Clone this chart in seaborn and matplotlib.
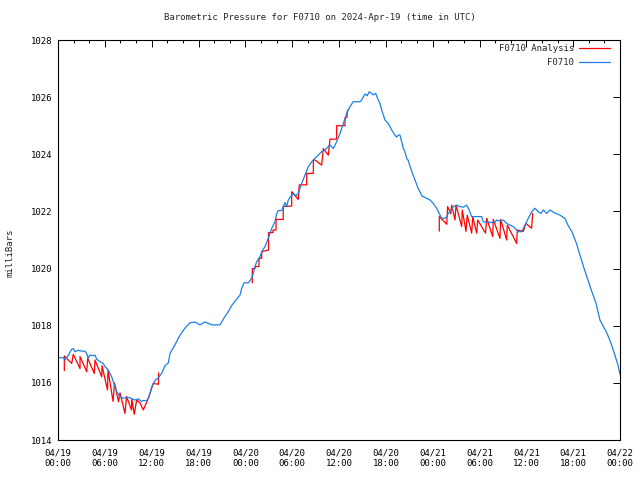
import matplotlib
matplotlib.use('Agg')
import matplotlib.pyplot as plt
import matplotlib.dates as mdates
from matplotlib.lines import Line2D
import seaborn as sns
import pandas as pd

# station F0710 pressure, hours after 2024-04-19 00:00 UTC
obs_hours = [0.00, 0.26, 0.68, 0.90, 1.32, 1.76, 1.96, 2.18, 2.60, 3.04, 3.46, 3.68, 3.88, 4.10,
             4.52, 4.74, 4.96, 5.38, 5.80, 6.02, 6.44, 6.88, 7.30, 7.52, 7.94, 8.37, 8.58, 9.22,
             9.44, 9.86, 10.29, 10.72, 10.93, 11.36, 11.57, 11.79, 12.00, 12.21, 12.43, 12.85,
             13.28, 13.71, 14.13, 14.35, 14.90, 15.63, 16.27, 16.91, 17.55, 18.19, 18.83, 19.73,
             20.75, 21.27, 21.78, 22.29, 22.80, 23.32, 23.53, 23.83, 24.38, 24.81, 25.02, 25.24,
             25.46, 25.88, 26.10, 26.52, 26.94, 27.16, 27.38, 27.58, 27.80, 28.02, 28.22, 28.66,
             28.86, 29.08, 29.30, 29.50, 29.94, 30.14, 30.49, 30.78, 31.22, 31.64, 32.07, 32.50,
             32.92, 33.35, 33.78, 34.20, 34.63, 34.85, 35.27, 35.70, 36.13, 36.55, 36.98, 37.41,
             37.83, 38.27, 38.69, 38.90, 39.33, 39.62, 39.88, 40.19, 40.39, 40.70, 41.03, 41.25,
             41.47, 41.67, 41.89, 42.31, 42.53, 42.75, 42.95, 43.17, 43.39, 43.59, 43.81, 44.03,
             44.23, 44.45, 44.67, 44.84, 45.35, 45.73, 46.12, 46.63, 47.14, 47.66, 48.08, 48.51,
             48.94, 49.15, 49.58, 49.80, 50.00, 50.22, 50.64, 51.07, 51.50, 51.92, 52.35, 52.68,
             52.99, 53.42, 53.84, 54.28, 54.48, 54.92, 55.56, 55.98, 56.20, 56.62, 57.05, 57.48,
             57.90, 58.33, 58.55, 58.97, 59.40, 59.83, 60.25, 60.68, 61.11, 61.53, 61.88, 62.17,
             62.60, 63.03, 63.67, 64.31, 64.95, 65.33, 65.85, 66.36, 66.87, 67.38, 67.90, 68.41,
             68.92, 69.43, 69.82, 70.33, 70.84, 71.35, 71.74, 72.00]
obs_mbar = [1016.90, 1016.88, 1016.88, 1016.80, 1016.97, 1017.18, 1017.20, 1017.09, 1017.14, 1017.11,
            1017.11, 1017.02, 1016.86, 1016.97, 1016.95, 1016.97, 1016.83, 1016.74, 1016.68, 1016.57,
            1016.45, 1016.21, 1015.87, 1015.69, 1015.52, 1015.46, 1015.48, 1015.48, 1015.44, 1015.40,
            1015.44, 1015.35, 1015.38, 1015.38, 1015.46, 1015.63, 1015.85, 1015.98, 1016.08, 1016.18,
            1016.33, 1016.60, 1016.70, 1017.03, 1017.29, 1017.67, 1017.92, 1018.10, 1018.13, 1018.03,
            1018.13, 1018.03, 1018.03, 1018.27, 1018.48, 1018.72, 1018.90, 1019.07, 1019.31, 1019.50,
            1019.50, 1019.66, 1019.83, 1020.07, 1020.24, 1020.42, 1020.59, 1020.77, 1021.06, 1021.23,
            1021.41, 1021.52, 1021.64, 1021.93, 1022.03, 1022.03, 1022.17, 1022.31, 1022.17, 1022.40,
            1022.57, 1022.63, 1022.55, 1022.63, 1022.98, 1023.27, 1023.57, 1023.74, 1023.86, 1023.97,
            1024.09, 1024.15, 1024.27, 1024.33, 1024.20, 1024.44, 1024.73, 1025.08, 1025.43, 1025.67,
            1025.84, 1025.84, 1025.84, 1025.90, 1026.11, 1026.05, 1026.19, 1026.13, 1026.08, 1026.13,
            1025.90, 1025.78, 1025.55, 1025.38, 1025.20, 1025.08, 1024.97, 1024.85, 1024.76, 1024.67,
            1024.60, 1024.67, 1024.67, 1024.44, 1024.21, 1024.09, 1023.86, 1023.80, 1023.38, 1023.10,
            1022.82, 1022.54, 1022.47, 1022.40, 1022.28, 1022.11, 1021.87, 1021.76, 1021.76, 1021.82,
            1021.93, 1021.99, 1022.17, 1022.22, 1022.17, 1022.15, 1022.22, 1022.05, 1021.82, 1021.82,
            1021.82, 1021.82, 1021.64, 1021.62, 1021.62, 1021.62, 1021.70, 1021.66, 1021.70, 1021.58,
            1021.52, 1021.47, 1021.41, 1021.29, 1021.29, 1021.52, 1021.76, 1021.99, 1022.11, 1021.99,
            1021.93, 1022.05, 1021.93, 1022.05, 1021.94, 1021.87, 1021.75, 1021.52, 1021.28, 1020.93,
            1020.48, 1020.02, 1019.60, 1019.18, 1018.79, 1018.20, 1018.00, 1017.74, 1017.39, 1016.97,
            1016.62, 1016.30]

# analysis runs (three windows)
ana1_hours = [0.81, 0.81, 1.76, 1.96, 2.82, 2.82, 3.68, 3.80, 4.65, 4.74, 5.60, 5.64, 6.34, 6.41,
              7.05, 7.24, 7.75, 7.94, 8.58, 8.78, 9.42, 9.45, 9.77, 10.08, 10.50, 10.93, 11.57,
              12.21, 12.87, 12.90]
ana1_mbar = [1016.43, 1016.94, 1016.68, 1017.00, 1016.50, 1016.92, 1016.39, 1016.86, 1016.33, 1016.80,
             1016.21, 1016.60, 1015.75, 1016.45, 1015.35, 1016.00, 1015.34, 1015.65, 1014.93, 1015.52,
             1015.05, 1015.45, 1014.90, 1015.40, 1015.30, 1015.05, 1015.46, 1015.98, 1015.95, 1016.35]
ana2_hours = [24.89, 24.89, 25.24, 25.24, 25.75, 25.75, 26.10, 26.10, 26.97, 26.97, 27.54, 27.54,
              27.93, 27.93, 28.86, 28.86, 29.94, 29.94, 30.78, 30.91, 31.86, 31.86, 32.71, 32.71,
              32.92, 33.78, 33.99, 34.63, 34.85, 35.70, 35.70, 36.77, 36.77, 37.02, 37.09]
ana2_mbar = [1019.50, 1020.00, 1020.00, 1020.07, 1020.07, 1020.36, 1020.36, 1020.59, 1020.65, 1021.26,
             1021.26, 1021.35, 1021.35, 1021.72, 1021.72, 1022.17, 1022.19, 1022.69, 1022.42, 1022.93,
             1022.93, 1023.33, 1023.33, 1023.80, 1023.80, 1023.62, 1024.20, 1023.97, 1024.53, 1024.53,
             1025.00, 1025.00, 1025.26, 1025.30, 1025.55]
ana3_hours = [48.85, 48.85, 49.80, 49.92, 50.31, 50.44, 50.86, 50.99, 51.72, 51.79, 52.27, 52.43,
              53.00, 53.13, 53.64, 53.77, 54.77, 54.92, 55.69, 55.77, 56.62, 56.71, 57.48, 57.56,
              58.76, 58.84, 59.61, 59.95, 60.68, 60.81]
ana3_mbar = [1021.31, 1021.82, 1021.55, 1022.17, 1021.92, 1022.22, 1021.70, 1022.22, 1021.47, 1022.05,
             1021.30, 1021.87, 1021.24, 1021.82, 1021.24, 1021.70, 1021.24, 1021.76, 1021.12, 1021.72,
             1021.06, 1021.72, 1021.00, 1021.52, 1020.88, 1021.35, 1021.30, 1021.58, 1021.41, 1021.93]

start = pd.Timestamp('2024-04-19 00:00')
obs = pd.DataFrame({'time': start + pd.to_timedelta(obs_hours, unit='h'), 'mbar': obs_mbar})
parts = []
for i, (h, m) in enumerate([(ana1_hours, ana1_mbar), (ana2_hours, ana2_mbar), (ana3_hours, ana3_mbar)]):
    parts.append(pd.DataFrame({'time': start + pd.to_timedelta(h, unit='h'), 'mbar': m, 'run': i}))
ana = pd.concat(parts, ignore_index=True)

sns.set_theme(style='white')
plt.rcParams['font.family'] = ['DejaVu Sans Mono']
plt.rcParams['font.size'] = 6.5

blue = '#1a80e6'
red = '#ff0000'
lw = 0.9

fig = plt.figure(figsize=(6.4, 4.8), dpi=100)
ax = fig.add_axes([58/640, 1-440/480, 562/640, 400/480])

sns.lineplot(data=ana, x='time', y='mbar', units='run', estimator=None, sort=False,
             color=red, linewidth=lw, ax=ax)
sns.lineplot(data=obs, x='time', y='mbar', estimator=None, sort=False,
             color=blue, linewidth=lw, ax=ax)

ax.set_xlim(start, start + pd.Timedelta(hours=72))
ax.set_ylim(1014, 1028)
ax.set_yticks(range(1014, 1029, 2))
ax.xaxis.set_major_locator(mdates.HourLocator(byhour=range(0, 24, 6)))
ax.xaxis.set_minor_locator(mdates.HourLocator(byhour=range(0, 24, 2)))
ax.xaxis.set_major_formatter(mdates.DateFormatter('%m/%d\n%H:%M'))
ax.set_xlabel('')
ax.set_ylabel('')
for s in ax.spines.values():
    s.set_color('black')
    s.set_linewidth(0.8)
ax.tick_params(which='both', direction='in', top=True, right=True, colors='black', width=0.7)
ax.tick_params(which='major', length=5, pad=4, labelsize=6.5)
ax.tick_params(axis='x', which='major', pad=6)
ax.tick_params(which='minor', length=2.5)
for lab in ax.get_xticklabels():
    lab.set_multialignment('center')

fig.text(0.5, 1-18/480, 'Barometric Pressure for F0710 on 2024-Apr-19 (time in UTC)',
         ha='center', va='center', fontsize=6.5)
fig.text(10/640, 1-253/480, 'milliBars', rotation=90, ha='center', va='center', fontsize=6.5)

handles = [Line2D([], [], color=red, lw=lw), Line2D([], [], color=blue, lw=lw)]
ax.legend(handles, ['F0710 Analysis', 'F0710'], loc='upper right', markerfirst=False,
          frameon=False, bbox_to_anchor=(610/640, 1-44/480), bbox_transform=fig.transFigure,
          borderpad=0, borderaxespad=0, handlelength=3.4, handletextpad=0.6,
          labelspacing=0.55, fontsize=6.5)

fig.savefig('out.png', dpi=100, facecolor='white')
